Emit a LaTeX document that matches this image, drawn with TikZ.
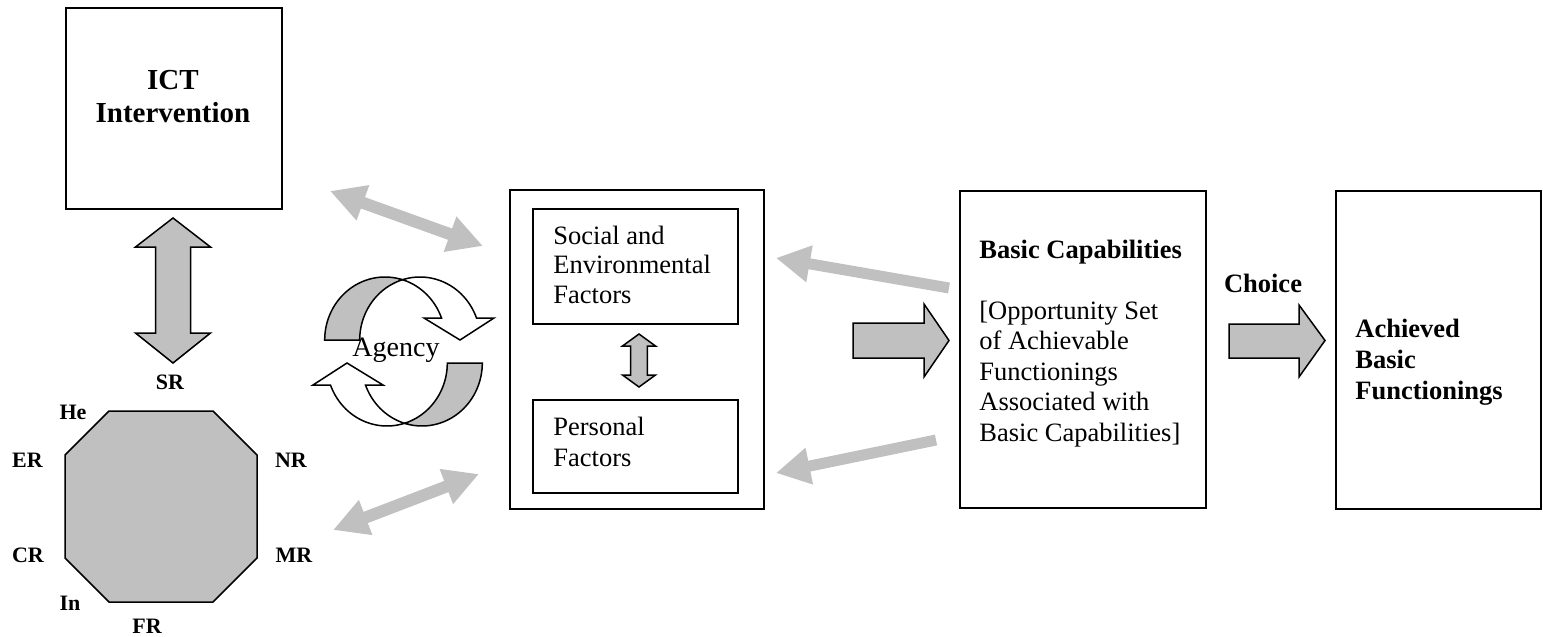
\documentclass[tikz,border=0pt]{standalone}
\usepackage{fontspec}
\setmainfont{Liberation Serif}
\usetikzlibrary{arrows.meta}
\definecolor{shade}{HTML}{C0C0C0}
\tikzset{
  box/.style={draw, line width=1pt, inner sep=0pt},
  blockarrow/.style={draw, fill=shade, line width=0.75pt, line join=miter},
  whitepart/.style={draw, fill=white, line width=0.75pt, line join=miter},
  gdouble/.style={draw=shade, line width=6pt, arrows={Triangle[length=17.5pt,width=17.5pt]-Triangle[length=17.5pt,width=17.5pt]}},
  gsingle/.style={draw=shade, line width=5.5pt, arrows={-Triangle[length=17pt,width=17.5pt]}},
  lbl/.style={font=\fontsize{11}{13}\selectfont\bfseries, inner sep=0pt},
  txt/.style={font=\fontsize{13.25}{15.25}\selectfont, align=left, inner sep=0pt, anchor=base west},
}
\newcommand\agencyhalf{%
  \draw[blockarrow] plot[domain=180:286.87,samples=40] ({385+60.3*cos(\x)},{340+63*sin(\x)})
     -- plot[domain=253.13:180,samples=40] ({420+60.3*cos(\x)},{340+63*sin(\x)}) -- cycle;
  \draw[whitepart] plot[domain=253.13:339.56,samples=40] ({420+60.3*cos(\x)},{340+63*sin(\x)})
     -- (494,318) -- (460,340) -- (424,318)
     -- plot[domain=339.56:286.87,samples=40] ({385+60.3*cos(\x)},{340+63*sin(\x)}) -- cycle;
}
\begin{document}
\begin{tikzpicture}[x=0.5pt, y=-0.5pt]
\useasboundingbox (0,0) rectangle (1543,637);

% boxes
\node[box, anchor=north west, minimum width=108pt, minimum height=100.5pt] (ict) at (65,7) {};
\node[box, anchor=north west, minimum width=127pt, minimum height=159.5pt] (mid) at (509,189) {};
\node[box, anchor=north west, minimum width=102.5pt, minimum height=57.5pt] (social) at (532,208) {};
\node[box, anchor=north west, minimum width=102.5pt, minimum height=46.5pt] (personal) at (532,399) {};
\node[box, anchor=north west, minimum width=123pt, minimum height=158.5pt] (basic) at (959,190) {};
\node[box, anchor=north west, minimum width=102.5pt, minimum height=159pt] (achieved) at (1335,190) {};

% texts (anchor base = baseline of last line)
\node[font=\fontsize{14.5}{16.5}\selectfont\bfseries, align=center, inner sep=0pt, anchor=base] (icttext) at (173,122) {ICT\\Intervention};
\node[txt, font=\fontsize{13.25}{14.6}\selectfont] (socialtext) at (553,303) {Social and\\Environmental\\Factors};
\node[txt, font=\fontsize{13.25}{15.5}\selectfont] (personaltext) at (553,466) {Personal\\Factors};
\node[txt] (basictext) at (979,441) {\textbf{Basic Capabilities}\\ \mbox{}\\ {[}Opportunity Set\\of Achievable\\Functionings\\Associated with\\Basic Capabilities{]}};
\node[txt, font=\fontsize{13.25}{15.5}\selectfont\bfseries] (achievedtext) at (1355,399) {Achieved\\Basic\\Functionings};
\node[font=\fontsize{13.25}{15}\selectfont\bfseries, inner sep=0pt] (choice) at (1263,283) {Choice};

% octagon
\coordinate (oct) at (161,506);
\draw[blockarrow] (109,411) -- (213,411) -- (257,455) -- (257,558) -- (213,602) -- (109,602) -- (65,558) -- (65,455) -- cycle;
\node[lbl] (sr) at (170,382) {SR};
\node[lbl] (he) at (73,412) {He};
\node[lbl] (er) at (27.5,460) {ER};
\node[lbl] (nr) at (291,460) {NR};
\node[lbl] (cr) at (28,555) {CR};
\node[lbl] (mr) at (294,555) {MR};
\node[lbl] (in) at (70,603) {In};
\node[lbl] (fr) at (147,626) {FR};

% vertical double block arrow ICT <-> octagon
\draw[blockarrow] (173,218) -- (210.5,247) -- (190.5,247) -- (190.5,333) -- (210.5,333) -- (173,363)
   -- (135.5,333) -- (155.5,333) -- (155.5,247) -- (135.5,247) -- cycle;

% small double block arrow between factor boxes
\draw[blockarrow] (639,334) -- (655.5,346) -- (647.3,346) -- (647.3,375) -- (655.5,375) -- (639,387)
   -- (622.5,375) -- (630.7,375) -- (630.7,346) -- (622.5,346) -- cycle;

% big right block arrows
\draw[blockarrow] (853,323) -- (924,323) -- (924,304) -- (949,340.5) -- (924,377) -- (924,358) -- (853,358) -- cycle;
\draw[blockarrow] (1229,324) -- (1299,324) -- (1299,305) -- (1325,340.5) -- (1299,377) -- (1299,358) -- (1229,358) -- cycle;

% light gray arrows
\coordinate (g1a) at (330,191); \coordinate (g1b) at (483,246);
\coordinate (g2a) at (333,530); \coordinate (g2b) at (479,474);
\coordinate (g3s) at (949,288); \coordinate (g3e) at (776,258);
\coordinate (g4s) at (936,440); \coordinate (g4e) at (776,473);
\draw[gdouble] (g1a) -- (g1b);
\draw[gdouble] (g2a) -- (g2b);
\draw[gsingle] (g3s) -- (g3e);
\draw[gsingle] (g4s) -- (g4e);

% agency circular arrows
\agencyhalf
\begin{scope}[rotate around={180:(403.5,351.5)}]
\agencyhalf
\end{scope}
\node[font=\fontsize{14}{16}\selectfont, inner sep=0pt] (agency) at (396,350) {Agency};
\end{tikzpicture}
\end{document}
